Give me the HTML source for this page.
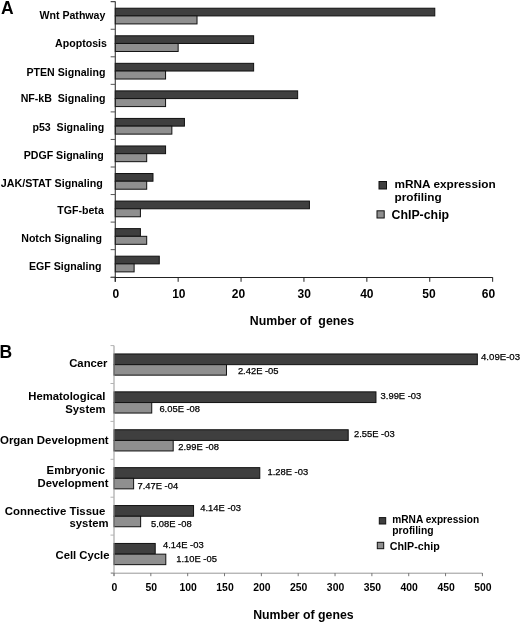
<!DOCTYPE html>
<html><head><meta charset="utf-8"><title>Figure</title>
<style>
html,body{margin:0;padding:0;background:#fff;}
svg{display:block;font-family:"Liberation Sans",sans-serif;fill:#000;}
text{fill:#000;}
</style></head><body>
<svg width="520" height="622" viewBox="0 0 520 622">
<rect x="0" y="0" width="520" height="622" fill="#ffffff" stroke="none"/>
<text xml:space="preserve" x="1" y="13.5" font-size="17.5" font-weight="bold" text-anchor="start">A</text>
<rect x="115.25" y="8.22" width="319.53" height="7.70" fill="#3f3f3f" stroke="#111" stroke-width="1"/>
<rect x="115.25" y="15.92" width="81.77" height="8.00" fill="#8f8f8f" stroke="#111" stroke-width="1"/>
<rect x="115.25" y="35.78" width="138.38" height="7.70" fill="#3f3f3f" stroke="#111" stroke-width="1"/>
<rect x="115.25" y="43.48" width="62.90" height="8.00" fill="#8f8f8f" stroke="#111" stroke-width="1"/>
<rect x="115.25" y="63.33" width="138.38" height="7.70" fill="#3f3f3f" stroke="#111" stroke-width="1"/>
<rect x="115.25" y="71.03" width="50.32" height="8.00" fill="#8f8f8f" stroke="#111" stroke-width="1"/>
<rect x="115.25" y="90.88" width="182.41" height="7.70" fill="#3f3f3f" stroke="#111" stroke-width="1"/>
<rect x="115.25" y="98.58" width="50.32" height="8.00" fill="#8f8f8f" stroke="#111" stroke-width="1"/>
<rect x="115.25" y="118.43" width="69.19" height="7.70" fill="#3f3f3f" stroke="#111" stroke-width="1"/>
<rect x="115.25" y="126.13" width="56.61" height="8.00" fill="#8f8f8f" stroke="#111" stroke-width="1"/>
<rect x="115.25" y="145.97" width="50.32" height="7.70" fill="#3f3f3f" stroke="#111" stroke-width="1"/>
<rect x="115.25" y="153.67" width="31.45" height="8.00" fill="#8f8f8f" stroke="#111" stroke-width="1"/>
<rect x="115.25" y="173.53" width="37.74" height="7.70" fill="#3f3f3f" stroke="#111" stroke-width="1"/>
<rect x="115.25" y="181.22" width="31.45" height="8.00" fill="#8f8f8f" stroke="#111" stroke-width="1"/>
<rect x="115.25" y="201.07" width="194.17" height="7.70" fill="#3f3f3f" stroke="#111" stroke-width="1"/>
<rect x="115.25" y="208.77" width="25.16" height="8.00" fill="#8f8f8f" stroke="#111" stroke-width="1"/>
<rect x="115.25" y="228.62" width="25.16" height="7.70" fill="#3f3f3f" stroke="#111" stroke-width="1"/>
<rect x="115.25" y="236.32" width="31.45" height="8.00" fill="#8f8f8f" stroke="#111" stroke-width="1"/>
<rect x="115.25" y="256.18" width="44.03" height="7.70" fill="#3f3f3f" stroke="#111" stroke-width="1"/>
<rect x="115.25" y="263.88" width="18.87" height="8.00" fill="#8f8f8f" stroke="#111" stroke-width="1"/>
<text xml:space="preserve" x="105.4" y="18.5" font-size="10.6" font-weight="bold" text-anchor="end">Wnt Pathway</text>
<text xml:space="preserve" x="106.9" y="46.5" font-size="10.6" font-weight="bold" text-anchor="end">Apoptosis</text>
<text xml:space="preserve" x="105.4" y="75.5" font-size="10.6" font-weight="bold" text-anchor="end">PTEN Signaling</text>
<text xml:space="preserve" x="105.4" y="102.0" font-size="10.6" font-weight="bold" text-anchor="end">NF-kB  Signaling</text>
<text xml:space="preserve" x="104.30000000000001" y="131.0" font-size="10.6" font-weight="bold" text-anchor="end">p53  Signaling</text>
<text xml:space="preserve" x="103.80000000000001" y="158.5" font-size="10.6" font-weight="bold" text-anchor="end">PDGF Signaling</text>
<text xml:space="preserve" x="102.80000000000001" y="186.6" font-size="10.73" font-weight="bold" text-anchor="end">JAK/STAT Signaling</text>
<text xml:space="preserve" x="103.80000000000001" y="213.5" font-size="10.6" font-weight="bold" text-anchor="end">TGF-beta</text>
<text xml:space="preserve" x="101.9" y="242.0" font-size="10.6" font-weight="bold" text-anchor="end">Notch Signaling</text>
<text xml:space="preserve" x="101.4" y="269.7" font-size="10.6" font-weight="bold" text-anchor="end">EGF Signaling</text>
<line x1="115.25" y1="1.40" x2="115.25" y2="281.80" stroke="#222" stroke-width="1"/>
<line x1="110.65" y1="1.70" x2="115.25" y2="1.70" stroke="#222" stroke-width="1"/>
<line x1="110.65" y1="29.25" x2="115.25" y2="29.25" stroke="#555" stroke-width="1"/>
<line x1="110.65" y1="56.80" x2="115.25" y2="56.80" stroke="#555" stroke-width="1"/>
<line x1="110.65" y1="84.35" x2="115.25" y2="84.35" stroke="#555" stroke-width="1"/>
<line x1="110.65" y1="111.90" x2="115.25" y2="111.90" stroke="#555" stroke-width="1"/>
<line x1="110.65" y1="139.45" x2="115.25" y2="139.45" stroke="#555" stroke-width="1"/>
<line x1="110.65" y1="167.00" x2="115.25" y2="167.00" stroke="#555" stroke-width="1"/>
<line x1="110.65" y1="194.55" x2="115.25" y2="194.55" stroke="#555" stroke-width="1"/>
<line x1="110.65" y1="222.10" x2="115.25" y2="222.10" stroke="#555" stroke-width="1"/>
<line x1="110.65" y1="249.65" x2="115.25" y2="249.65" stroke="#555" stroke-width="1"/>
<line x1="110.65" y1="277.20" x2="115.25" y2="277.20" stroke="#222" stroke-width="1"/>
<line x1="110.65" y1="277.50" x2="115.25" y2="277.50" stroke="#555" stroke-width="1"/>
<line x1="114.75" y1="277.50" x2="492.65" y2="277.50" stroke="#222" stroke-width="1"/>
<line x1="115.25" y1="277.20" x2="115.25" y2="281.80" stroke="#222" stroke-width="1"/>
<text xml:space="preserve" x="115.75" y="297.7" font-size="12" font-weight="bold" text-anchor="middle">0</text>
<line x1="178.15" y1="277.20" x2="178.15" y2="281.80" stroke="#222" stroke-width="1"/>
<text xml:space="preserve" x="178.85" y="297.7" font-size="12" font-weight="bold" text-anchor="middle">10</text>
<line x1="241.05" y1="277.20" x2="241.05" y2="281.80" stroke="#222" stroke-width="1"/>
<text xml:space="preserve" x="238.55" y="297.7" font-size="12" font-weight="bold" text-anchor="middle">20</text>
<line x1="303.95" y1="277.20" x2="303.95" y2="281.80" stroke="#222" stroke-width="1"/>
<text xml:space="preserve" x="304.15" y="297.7" font-size="12" font-weight="bold" text-anchor="middle">30</text>
<line x1="366.85" y1="277.20" x2="366.85" y2="281.80" stroke="#222" stroke-width="1"/>
<text xml:space="preserve" x="366.85" y="297.7" font-size="12" font-weight="bold" text-anchor="middle">40</text>
<line x1="429.75" y1="277.20" x2="429.75" y2="281.80" stroke="#222" stroke-width="1"/>
<text xml:space="preserve" x="429.05" y="297.7" font-size="12" font-weight="bold" text-anchor="middle">50</text>
<line x1="492.65" y1="277.20" x2="492.65" y2="281.80" stroke="#222" stroke-width="1"/>
<text xml:space="preserve" x="488.45" y="297.7" font-size="12" font-weight="bold" text-anchor="middle">60</text>
<text xml:space="preserve" x="301.9" y="325.0" font-size="12.35" font-weight="bold" text-anchor="middle">Number of  genes</text>
<rect x="379.00" y="181.50" width="7.50" height="7.50" fill="#3f3f3f" stroke="#111" stroke-width="1"/>
<text xml:space="preserve" x="394.5" y="188.3" font-size="11.8" font-weight="bold" text-anchor="start">mRNA expression</text>
<text xml:space="preserve" x="394.5" y="200.8" font-size="11.8" font-weight="bold" text-anchor="start">profiling</text>
<rect x="377.00" y="210.80" width="7.20" height="7.20" fill="#8f8f8f" stroke="#111" stroke-width="1"/>
<text xml:space="preserve" x="391.5" y="218.6" font-size="12.35" font-weight="bold" text-anchor="start">ChIP-chip</text>
<text xml:space="preserve" x="-0.5" y="357.5" font-size="17.5" font-weight="bold" text-anchor="start">B</text>
<rect x="114.00" y="353.95" width="363.34" height="10.70" fill="#3f3f3f" stroke="#111" stroke-width="1"/>
<rect x="114.00" y="364.65" width="112.48" height="10.50" fill="#8f8f8f" stroke="#111" stroke-width="1"/>
<rect x="114.00" y="391.85" width="261.96" height="10.70" fill="#3f3f3f" stroke="#111" stroke-width="1"/>
<rect x="114.00" y="402.55" width="37.74" height="10.50" fill="#8f8f8f" stroke="#111" stroke-width="1"/>
<rect x="114.00" y="429.75" width="234.21" height="10.70" fill="#3f3f3f" stroke="#111" stroke-width="1"/>
<rect x="114.00" y="440.45" width="59.20" height="10.50" fill="#8f8f8f" stroke="#111" stroke-width="1"/>
<rect x="114.00" y="467.65" width="145.78" height="10.70" fill="#3f3f3f" stroke="#111" stroke-width="1"/>
<rect x="114.00" y="478.35" width="19.61" height="10.50" fill="#8f8f8f" stroke="#111" stroke-width="1"/>
<rect x="114.00" y="505.55" width="79.55" height="10.70" fill="#3f3f3f" stroke="#111" stroke-width="1"/>
<rect x="114.00" y="516.25" width="26.64" height="10.50" fill="#8f8f8f" stroke="#111" stroke-width="1"/>
<rect x="114.00" y="543.45" width="41.22" height="10.70" fill="#3f3f3f" stroke="#111" stroke-width="1"/>
<rect x="114.00" y="554.15" width="51.80" height="10.50" fill="#8f8f8f" stroke="#111" stroke-width="1"/>
<line x1="114.00" y1="345.60" x2="114.00" y2="576.00" stroke="#979797" stroke-width="1"/>
<line x1="110.50" y1="345.60" x2="114.00" y2="345.60" stroke="#b4b4b4" stroke-width="1"/>
<line x1="110.50" y1="383.50" x2="114.00" y2="383.50" stroke="#b4b4b4" stroke-width="1"/>
<line x1="110.50" y1="421.40" x2="114.00" y2="421.40" stroke="#b4b4b4" stroke-width="1"/>
<line x1="110.50" y1="459.30" x2="114.00" y2="459.30" stroke="#b4b4b4" stroke-width="1"/>
<line x1="110.50" y1="497.20" x2="114.00" y2="497.20" stroke="#b4b4b4" stroke-width="1"/>
<line x1="110.50" y1="535.10" x2="114.00" y2="535.10" stroke="#b4b4b4" stroke-width="1"/>
<line x1="110.50" y1="573.00" x2="114.00" y2="573.00" stroke="#b4b4b4" stroke-width="1"/>
<line x1="111.00" y1="573.20" x2="482.40" y2="573.20" stroke="#979797" stroke-width="1"/>
<line x1="114.00" y1="573.00" x2="114.00" y2="576.20" stroke="#777" stroke-width="1"/>
<text xml:space="preserve" x="114.5" y="590.6" font-size="10.4" font-weight="bold" text-anchor="middle">0</text>
<line x1="150.84" y1="573.00" x2="150.84" y2="576.20" stroke="#777" stroke-width="1"/>
<text xml:space="preserve" x="151.34" y="590.6" font-size="10.4" font-weight="bold" text-anchor="middle">50</text>
<line x1="187.68" y1="573.00" x2="187.68" y2="576.20" stroke="#777" stroke-width="1"/>
<text xml:space="preserve" x="188.18" y="590.6" font-size="10.4" font-weight="bold" text-anchor="middle">100</text>
<line x1="224.52" y1="573.00" x2="224.52" y2="576.20" stroke="#777" stroke-width="1"/>
<text xml:space="preserve" x="225.01999999999998" y="590.6" font-size="10.4" font-weight="bold" text-anchor="middle">150</text>
<line x1="261.36" y1="573.00" x2="261.36" y2="576.20" stroke="#777" stroke-width="1"/>
<text xml:space="preserve" x="261.86" y="590.6" font-size="10.4" font-weight="bold" text-anchor="middle">200</text>
<line x1="298.20" y1="573.00" x2="298.20" y2="576.20" stroke="#777" stroke-width="1"/>
<text xml:space="preserve" x="298.7" y="590.6" font-size="10.4" font-weight="bold" text-anchor="middle">250</text>
<line x1="335.04" y1="573.00" x2="335.04" y2="576.20" stroke="#777" stroke-width="1"/>
<text xml:space="preserve" x="335.53999999999996" y="590.6" font-size="10.4" font-weight="bold" text-anchor="middle">300</text>
<line x1="371.88" y1="573.00" x2="371.88" y2="576.20" stroke="#777" stroke-width="1"/>
<text xml:space="preserve" x="372.38" y="590.6" font-size="10.4" font-weight="bold" text-anchor="middle">350</text>
<line x1="408.72" y1="573.00" x2="408.72" y2="576.20" stroke="#777" stroke-width="1"/>
<text xml:space="preserve" x="409.22" y="590.6" font-size="10.4" font-weight="bold" text-anchor="middle">400</text>
<line x1="445.56" y1="573.00" x2="445.56" y2="576.20" stroke="#777" stroke-width="1"/>
<text xml:space="preserve" x="446.06" y="590.6" font-size="10.4" font-weight="bold" text-anchor="middle">450</text>
<line x1="482.40" y1="573.00" x2="482.40" y2="576.20" stroke="#777" stroke-width="1"/>
<text xml:space="preserve" x="482.9" y="590.6" font-size="10.4" font-weight="bold" text-anchor="middle">500</text>
<text xml:space="preserve" x="303.4" y="618.5" font-size="12.3" font-weight="bold" text-anchor="middle">Number of genes</text>
<text xml:space="preserve" x="107.5" y="367" font-size="11.3" font-weight="bold" text-anchor="end">Cancer</text>
<text xml:space="preserve" x="105.5" y="400.0" font-size="11.3" font-weight="bold" text-anchor="end">Hematological</text>
<text xml:space="preserve" x="105.5" y="412.5" font-size="11.3" font-weight="bold" text-anchor="end">System</text>
<text xml:space="preserve" x="108.7" y="444.3" font-size="11.45" font-weight="bold" text-anchor="end">Organ Development</text>
<text xml:space="preserve" x="105" y="474.4" font-size="11.3" font-weight="bold" text-anchor="end">Embryonic</text>
<text xml:space="preserve" x="108.5" y="487.0" font-size="11.3" font-weight="bold" text-anchor="end">Development</text>
<text xml:space="preserve" x="105.3" y="514.7" font-size="11.4" font-weight="bold" text-anchor="end">Connective Tissue</text>
<text xml:space="preserve" x="108.5" y="526.8" font-size="11.3" font-weight="bold" text-anchor="end">system</text>
<text xml:space="preserve" x="109.5" y="558.9" font-size="11.3" font-weight="bold" text-anchor="end">Cell Cycle</text>
<text xml:space="preserve" x="481.0" y="360.1" font-size="9.65" font-weight="normal" text-anchor="start" stroke="#000" stroke-width="0.25">4.09E-03</text>
<text xml:space="preserve" x="237.9" y="374.4" font-size="9.4" font-weight="normal" text-anchor="start" stroke="#000" stroke-width="0.25">2.42E -05</text>
<text xml:space="preserve" x="421.25" y="399.2" font-size="9.4" font-weight="normal" text-anchor="end" stroke="#000" stroke-width="0.25">3.99E -03</text>
<text xml:space="preserve" x="159.4" y="411.9" font-size="9.4" font-weight="normal" text-anchor="start" stroke="#000" stroke-width="0.25">6.05E -08</text>
<text xml:space="preserve" x="354" y="436.9" font-size="9.4" font-weight="normal" text-anchor="start" stroke="#000" stroke-width="0.25">2.55E -03</text>
<text xml:space="preserve" x="178.3" y="449.7" font-size="9.4" font-weight="normal" text-anchor="start" stroke="#000" stroke-width="0.25">2.99E -08</text>
<text xml:space="preserve" x="267.5" y="475" font-size="9.4" font-weight="normal" text-anchor="start" stroke="#000" stroke-width="0.25">1.28E -03</text>
<text xml:space="preserve" x="137.5" y="488.5" font-size="9.4" font-weight="normal" text-anchor="start" stroke="#000" stroke-width="0.25">7.47E -04</text>
<text xml:space="preserve" x="200.3" y="511.4" font-size="9.4" font-weight="normal" text-anchor="start" stroke="#000" stroke-width="0.25">4.14E -03</text>
<text xml:space="preserve" x="151" y="526.5" font-size="9.4" font-weight="normal" text-anchor="start" stroke="#000" stroke-width="0.25">5.08E -08</text>
<text xml:space="preserve" x="163" y="548.0" font-size="9.4" font-weight="normal" text-anchor="start" stroke="#000" stroke-width="0.25">4.14E -03</text>
<text xml:space="preserve" x="176.25" y="562" font-size="9.4" font-weight="normal" text-anchor="start" stroke="#000" stroke-width="0.25">1.10E -05</text>
<rect x="379.30" y="517.60" width="6.40" height="6.40" fill="#3f3f3f" stroke="#111" stroke-width="1"/>
<text xml:space="preserve" x="392.3" y="523.2" font-size="10.15" font-weight="bold" text-anchor="start">mRNA expression</text>
<text xml:space="preserve" x="392.3" y="534.3" font-size="10.3" font-weight="bold" text-anchor="start">profiling</text>
<rect x="377.30" y="542.30" width="6.40" height="6.40" fill="#8f8f8f" stroke="#111" stroke-width="1"/>
<text xml:space="preserve" x="389.8" y="549.7" font-size="10.7" font-weight="bold" text-anchor="start">ChIP-chip</text>
</svg>
</body></html>
